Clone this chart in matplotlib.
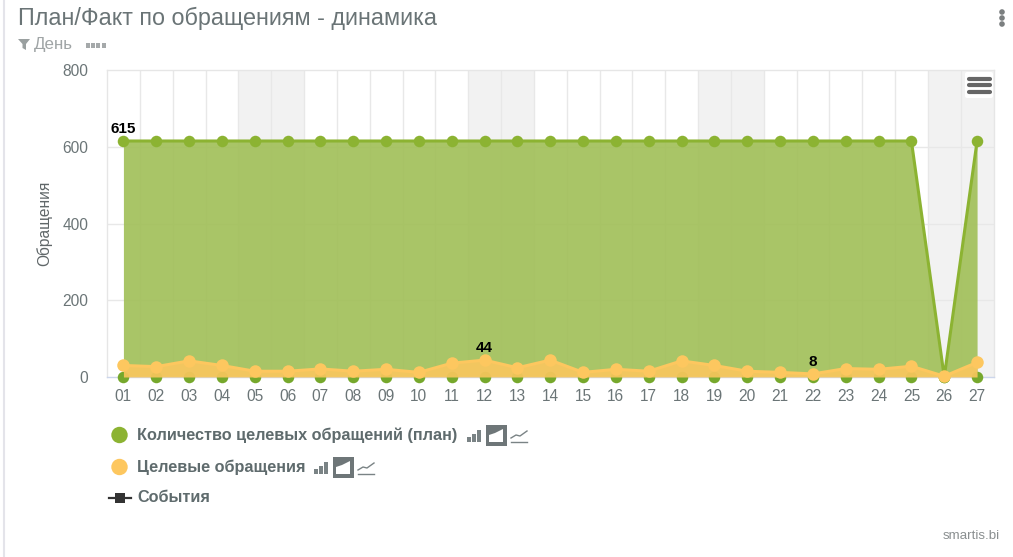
import matplotlib
matplotlib.use("Agg")
import matplotlib.pyplot as plt
from matplotlib.patches import Rectangle, FancyBboxPatch, Circle, Polygon
import numpy as np

plt.rcParams['font.family'] = ['Liberation Sans', 'DejaVu Sans']

days = ["01","02","03","04","05","06","07","08","09","10","11","12","13","14",
        "15","16","17","18","19","20","21","22","23","24","25","26","27"]
plan = [615]*25 + [0, 615]
plan_base = [0]*27
fact = [30,27,42,30,15,15,21,15,20,12,36,44,24,44,12,20,15,42,30,15,12,8,22,20,28,2,38]
weekend_starts = [4, 11, 18, 25]
yticks = [0, 200, 400, 600, 800]
data_labels = [(0, plan, "615"), (11, fact, "44"), (21, fact, "8")]
series_names = ["Количество целевых обращений (план)", "Целевые обращения", "События"]
title = "План/Факт по обращениям - динамика"
subtitle = "День"
ylabel = "Обращения"
credit = "smartis.bi"

W, H = 1013, 557
GREEN, YELLOW = "#8cb332", "#fdc75f"
GREY = "#5f6b6d"
fig = plt.figure(figsize=(W/100, H/100), dpi=100, facecolor="white")

L, R, T, B = 107, 993.5, 70, 377
ax = fig.add_axes([L/W, 1-B/H, (R-L)/W, (B-T)/H])
x = np.arange(len(days))
ax.set_xlim(-0.5, len(days)-0.5)
ax.set_ylim(0, 800)
for s in weekend_starts:
    ax.axvspan(s-0.5, s+1.5, color="#f2f2f2", lw=0, zorder=0)
for v in x[:-1]:
    ax.axvline(v+0.5, color="#e8e8e8", lw=1, zorder=1)
for v in yticks[1:-1]:
    ax.axhline(v, color="#e8e8e8", lw=1, zorder=1)
for side, sp in ax.spines.items():
    sp.set_color("#e6e6e6")
    sp.set_linewidth(1)
ax.spines['bottom'].set_color("#ccd6eb")

ax.fill_between(x, 0, plan, color="#a2c05a", alpha=0.92, lw=0, zorder=2)
ax.plot(x, plan, color=GREEN, lw=2.2, zorder=3, clip_on=False)
ax.plot(x, plan, 'o', color=GREEN, ms=8.3, mew=0, zorder=4, clip_on=False)
ax.plot(x, plan_base, 'o', color="#76a82c", ms=8.3, mew=0, zorder=4, clip_on=False)
ax.fill_between(x, 0, fact, color=YELLOW, alpha=0.88, lw=0, zorder=5)
ax.plot(x, fact, color=YELLOW, lw=2.2, zorder=6, clip_on=False)
ax.plot(x, fact, 'o', color=YELLOW, ms=9, mew=0, zorder=7, clip_on=False)

for i, src, s in data_labels:
    ax.annotate(s, (i, src[i]), xytext=(0, 3.6), textcoords="offset points", ha="center", va="bottom",
                fontsize=11, fontweight="bold", color="black", zorder=8)

ax.set_xticks(x, days)
ax.set_yticks(yticks, [str(v) for v in yticks])
ax.tick_params(axis='x', length=0, pad=8.5, labelsize=11.2, labelcolor="#6b7577")
ax.tick_params(axis='y', length=0, pad=13.5, labelsize=11.2, labelcolor="#6b7577")
ax.set_ylabel(ylabel, fontsize=11.2, color="#5f6668")
ax.yaxis.set_label_coords((52.5-L)/(R-L), 0.5)

# page-level decorations in pixel coordinates
ov = fig.add_axes([0, 0, 1, 1], facecolor="none")
ov.set_xlim(0, W); ov.set_ylim(H, 0); ov.axis("off")
ov.set_zorder(10)
ov.plot([3.5, 3.5], [0, H], color="#e4e4ea", lw=1.5)

ov.text(18, 18, title, fontsize=16.85, color="#6a7476", va="center", ha="left")
ov.add_patch(Polygon([(18, 39), (30, 39), (26, 44), (26, 50), (22.5, 48), (22.5, 44)], color="#9aa0a0", lw=0))
ov.text(34, 44.5, subtitle, fontsize=12.2, color="#a0a5a6", va="center", ha="left")
for k in range(4):
    ov.add_patch(Rectangle((86+k*5.2, 42.5), 4, 5, color="#a5a9aa", lw=0))

for yy in (12, 18, 24):
    ov.add_patch(Circle((1002, yy), 2.8, color="#7b7f80", lw=0))

ov.add_patch(FancyBboxPatch((965, 72), 28, 26, boxstyle="round,pad=0,rounding_size=2", fc="white", ec="none"))
for yy in (78.5, 85, 91.5):
    ov.plot([969, 990], [yy, yy], color="#666666", lw=3, solid_capstyle="round")

def chart_icons(x0, yc):
    for dx, hh in ((0, 5), (5, 8), (10, 12)):
        ov.add_patch(Rectangle((x0+dx, yc+6-hh), 3.6, hh, color="#7a8385", lw=0))
    bx = x0+19
    ov.add_patch(Rectangle((bx, yc-11), 21, 21, color="#6e7678", lw=0))
    ov.add_patch(Polygon([(bx+3, yc+6), (bx+3, yc-1), (bx+9, yc-3), (bx+17, yc-7), (bx+17, yc+6)], color="white", lw=0))
    lx = bx+25
    ov.plot([lx, lx+16], [yc+6, yc+6], color="#7a8385", lw=1)
    ov.plot([lx, lx+5, lx+9, lx+16], [yc+2, yc-1, yc, yc-5], color="#7a8385", lw=1)

lx = 137
ov.add_patch(Circle((119.5, 435), 8.2, color=GREEN, lw=0))
ov.text(lx, 435, series_names[0], fontsize=11.7, fontweight="bold", color=GREY, va="center")
chart_icons(467, 436)
ov.add_patch(Circle((119.5, 467), 8.2, color=YELLOW, lw=0))
ov.text(lx, 467, series_names[1], fontsize=11.7, fontweight="bold", color=GREY, va="center")
chart_icons(314, 468)
ov.plot([109, 131], [498, 498], color="#333333", lw=1.6)
ov.add_patch(Rectangle((115, 493), 10, 10, color="#333333", lw=0))
ov.text(lx, 498, series_names[2], fontsize=11.7, fontweight="bold", color=GREY, va="center")
ov.text(1000, 536, credit, fontsize=9.6, color="#8a8f90", va="center", ha="right")

fig.savefig("out.png", dpi=100)
